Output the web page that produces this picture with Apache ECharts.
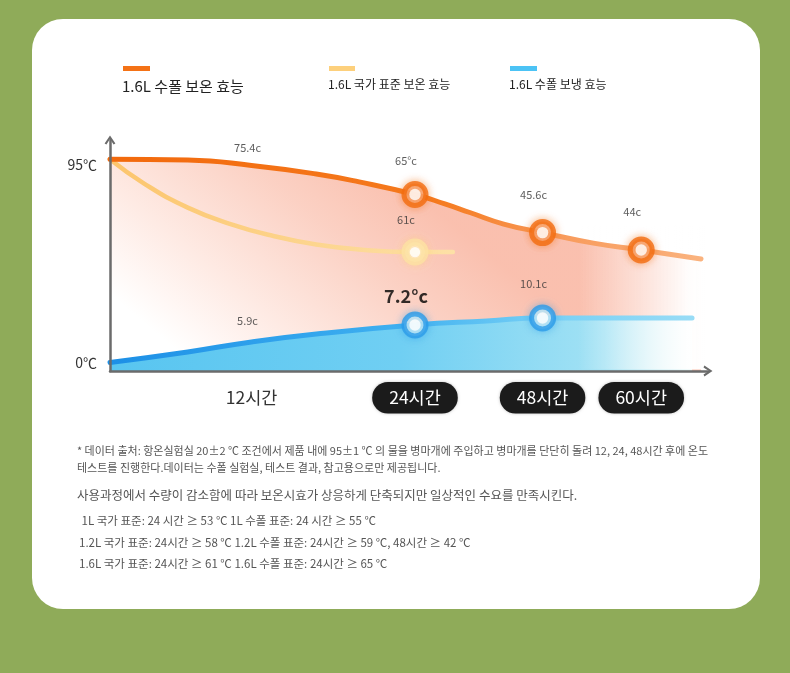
<!DOCTYPE html>
<html>
<head>
<meta charset="utf-8">
<script src="https://cdn.jsdelivr.net/npm/echarts@6/dist/echarts.min.js"></script>
<style>
  html, body { margin: 0; padding: 0; background: #8fab59; width: 790px; height: 673px; overflow: hidden; }
  #card { position: absolute; left: 32px; top: 19px; width: 728px; height: 590px; background: #fff; border-radius: 31px; }
  #chart { position: absolute; left: 0; top: 0; width: 790px; height: 673px; }
</style>
</head>
<body>
<div id="card"></div>
<div id="chart"></div>
<script>
// ---------- data ----------
// the timeline in the picture is not linear in hours, so x values are positions on a 0-60 timeline scale
const timeLabels = ['12시간', '24시간', '48시간', '60시간'];
const timeSlots = [14.2, 30.6, 43.4, 53.3];

const orangeX = [0, 7.8, 14.2, 20.7, 25, 30.6, 33.6, 36.1, 39.5, 43.4, 48.5, 53.3, 59.3];
const orangeY = [95, 94.6, 92.1, 88.1, 84.4, 78.5, 74.1, 70.1, 64.7, 60.7, 55.8, 52.6, 48.4];
const yellowX = [0, 3.5, 7.8, 12.1, 16.4, 20.7, 25, 30.6, 34.4];
const yellowY = [95, 83.4, 72.4, 64.7, 59.1, 55.1, 52.8, 51.6, 51.6];
const blueX = [0, 7.8, 14.2, 20.7, 30.6, 37.8, 43.4, 50.7, 58.4];
const blueY = [0, 4.9, 9.6, 13.3, 17.5, 19.4, 20.8, 20.8, 20.8];

// printed value labels at 12h / 24h / 48h / 60h
const orangeTexts = ['75.4c', '65°c', '45.6c', '44c'];
const yellowTexts = [null, '61c', null, null];
const blueTexts = ['5.9c', '7.2°c', '10.1c', null];
// which time marks carry a ring marker
const orangeMarks = [false, true, true, true];
const yellowMarks = [false, true, false, false];
const blueMarks = [false, true, true, false];

const yTickValues = [0, 95];
const seriesNames = ['1.6L 수폴 보온 효능', '1.6L 국가 표준 보온 효능', '1.6L 수폴 보냉 효능'];

const noteLines = [
  '* 데이터 출처: 항온실험실 20±2 ℃ 조건에서 제품 내에 95±1 ℃ 의 물을 병마개에 주입하고 병마개를 단단히 돌려 12, 24, 48시간 후에 온도',
  '테스트를 진행한다.데이터는 수폴 실험실, 테스트 결과, 참고용으로만 제공됩니다.',
  '사용과정에서 수량이 감소함에 따라 보온시효가 상응하게 단축되지만 일상적인 수요를 만족시킨다.',
  ' 1L 국가 표준: 24 시간 ≥ 53 ℃ 1L 수폴 표준: 24 시간 ≥ 55 ℃',
  '1.2L 국가 표준: 24시간 ≥ 58 ℃ 1.2L 수폴 표준: 24시간 ≥ 59 ℃, 48시간 ≥ 42 ℃',
  '1.6L 국가 표준: 24시간 ≥ 61 ℃ 1.6L 수폴 표준: 24시간 ≥ 65 ℃'
];

// ---------- styling ----------
const FONT = '"Noto Sans CJK KR", "Noto Sans", sans-serif';
const labelLift = { orange: [12, 28, 32, 33], yellow: [0, 27, 0, 0], blue: [16, 20, 29, 0] };

function zip(xs, ys) { return xs.map((x, i) => [x, ys[i]]); }
function valueAt(xs, ys, slot) {
  let best = 0;
  xs.forEach((x, i) => { if (Math.abs(x - slot) < Math.abs(xs[best] - slot)) best = i; });
  return ys[best];
}
function markData(xs, ys, flags) {
  const out = [];
  timeSlots.forEach((s, i) => { if (flags[i]) out.push([s, valueAt(xs, ys, s)]); });
  return out;
}
function labelData(xs, ys, texts, lifts, bold) {
  const out = [];
  timeSlots.forEach((s, i) => {
    if (texts[i] == null) return;
    const isBold = bold && texts[i] === '7.2°c';
    out.push({
      value: [s, valueAt(xs, ys, s)],
      label: {
        show: true, position: 'top', distance: lifts[i], offset: [i === 0 ? -4 : -9, 0],
        formatter: texts[i],
        fontSize: isBold ? 18 : 11,
        fontWeight: isBold ? 'bold' : 'normal',
        color: isBold ? '#000' : '#333',
        fontFamily: FONT
      }
    });
  });
  return out;
}
const G = echarts.graphic.LinearGradient;

const ringSeries = (name, data, outer, inner, center, size, bw, glow) => ([
  {
    type: 'scatter', name: name, data: data, z: 6, silent: true,
    symbol: 'circle', symbolSize: size,
    itemStyle: { color: inner, borderColor: outer, borderWidth: bw, shadowColor: glow, shadowBlur: 8 }
  },
  {
    type: 'scatter', name: name, data: data, z: 7, silent: true,
    symbol: 'circle', symbolSize: size * 0.52,
    itemStyle: { color: center }
  }
]);

const chart = echarts.init(document.getElementById('chart'), null, { renderer: 'canvas' });

const chevron = 'path://M0,9 L6,0 L12,9 L10,10 L6,4 L2,10 Z';
const SMOOTH = 0.5;

chart.setOption({
  animation: false,
  textStyle: { fontFamily: FONT },
  grid: { left: 110, right: 82, top: 140, bottom: 302, containLabel: false },
  xAxis: {
    type: 'value', min: 0, max: 60, z: 10,
    axisLine: { show: true, onZero: false, symbol: ['none', chevron], symbolSize: [12, 9], lineStyle: { color: '#6b6b6b', width: 2.5 } },
    axisTick: { show: false },
    splitLine: { show: false },
    axisLabel: {
      customValues: timeSlots, margin: 11,
      formatter: function (v) {
        let idx = 0;
        timeSlots.forEach((s, i) => { if (Math.abs(s - v) < Math.abs(timeSlots[idx] - v)) idx = i; });
        return idx === 0 ? '{plain|' + timeLabels[idx] + '}' : '{pill|' + timeLabels[idx] + '}';
      },
      rich: {
        plain: { fontSize: 17.5, color: '#333', padding: [7, 17], fontFamily: FONT },
        pill: { fontSize: 17.5, color: '#fff', backgroundColor: '#1b1b1b', borderRadius: 17, padding: [7, 17], fontFamily: FONT,
                shadowColor: 'rgba(0,0,0,0.25)', shadowBlur: 3 }
      }
    }
  },
  yAxis: {
    type: 'value', min: -4, max: 104, z: 10,
    axisLine: { show: true, onZero: false, symbol: ['none', chevron], symbolSize: [12, 9], lineStyle: { color: '#6b6b6b', width: 2.5 } },
    axisTick: { show: false },
    splitLine: { show: false },
    axisLabel: {
      customValues: yTickValues, margin: 13, fontFamily: FONT,
      formatter: v => (v > 0 ? '{low|' : '{n|') + v + '℃}',
      rich: {
        n: { fontSize: 14, color: '#333', fontFamily: FONT },
        low: { fontSize: 14, color: '#333', fontFamily: FONT, padding: [11, 0, 0, 0] }
      }
    }
  },
  series: [
    {
      type: 'line', name: seriesNames[0] + ' 영역', data: zip(orangeX, orangeY), z: 1, silent: true,
      smooth: SMOOTH, showSymbol: false, lineStyle: { width: 0 },
      areaStyle: { origin: 'start', color: new G(0.15, 1, 0.45, 0, [
        { offset: 0, color: '#ffffff' }, { offset: 0.3, color: '#fde2d9' },
        { offset: 0.7, color: '#f9bca9' }, { offset: 1, color: '#f7a48b' }]) }
    },
    {
      type: 'line', name: seriesNames[2] + ' 영역', data: zip(blueX, blueY), z: 1, silent: true,
      smooth: SMOOTH, showSymbol: false, lineStyle: { width: 0 },
      areaStyle: { origin: 'start', opacity: 1, color: new G(0, 0, 1, 0, [
        { offset: 0, color: '#58c5f0' }, { offset: 0.5, color: '#70cff3' },
        { offset: 0.85, color: '#a3e2f4' }, { offset: 1, color: '#e6f7f6' }]) }
    },
    {
      type: 'line', name: seriesNames[1], data: zip(yellowX, yellowY), z: 3, silent: true,
      smooth: SMOOTH, showSymbol: false,
      lineStyle: { width: 4.5, cap: 'round', color: new G(0, 0, 1, 0, [{ offset: 0, color: '#fcc56c' }, { offset: 1, color: '#fde0a6' }]) }
    },
    {
      type: 'line', name: seriesNames[0], data: zip(orangeX, orangeY), z: 3, silent: true,
      smooth: SMOOTH, showSymbol: false,
      lineStyle: { width: 5, cap: 'round', color: new G(0, 0, 1, 0, [
        { offset: 0, color: '#f2690c' }, { offset: 0.55, color: '#f57a1e' }, { offset: 0.75, color: '#f89a5a' }, { offset: 1, color: '#fab37f' }]) }
    },
    {
      type: 'line', name: seriesNames[2], data: zip(blueX, blueY), z: 3, silent: true,
      smooth: SMOOTH, showSymbol: false,
      lineStyle: { width: 5, cap: 'round', color: new G(0, 0, 1, 0, [
        { offset: 0, color: '#1c8fe6' }, { offset: 0.5, color: '#3fb0f0' }, { offset: 0.75, color: '#78d0f5' }, { offset: 1, color: '#98dcf6' }]) }
    },
    ...ringSeries(seriesNames[0], markData(orangeX, orangeY, orangeMarks), '#f26d10', '#f9ad7e', '#ffffff', 22, 5, 'rgba(242,109,16,0.55)'),
    ...ringSeries(seriesNames[1], markData(yellowX, yellowY, yellowMarks), '#fde2a4', '#fff1d2', '#ffffff', 20, 7, 'rgba(253,210,120,0.5)'),
    ...ringSeries(seriesNames[2], markData(blueX, blueY, blueMarks), '#2a9be9', '#e2f8f7', '#ffffff', 22, 5, 'rgba(42,155,233,0.5)'),
    {
      type: 'scatter', name: 'labels-o', z: 8, silent: true, symbolSize: 0,
      data: labelData(orangeX, orangeY, orangeTexts, labelLift.orange, false)
    },
    {
      type: 'scatter', name: 'labels-y', z: 8, silent: true, symbolSize: 0,
      data: labelData(yellowX, yellowY, yellowTexts, labelLift.yellow, false)
    },
    {
      type: 'scatter', name: 'labels-b', z: 8, silent: true, symbolSize: 0,
      data: labelData(blueX, blueY, blueTexts, labelLift.blue, true)
    }
  ]
});

// legend, notes and the white fade at the right end of the filled areas
const graphicEls = [
  { type: 'rect', shape: { x: 123, y: 66, width: 27, height: 5 }, style: { fill: '#f47216' } },
  { type: 'text', x: 122, y: 86, style: { text: seriesNames[0], fontSize: 15, fontFamily: FONT, fill: '#222', verticalAlign: 'middle' } },
  { type: 'rect', shape: { x: 329, y: 66, width: 26, height: 5 }, style: { fill: '#fdd07c' } },
  { type: 'text', x: 328, y: 84, style: { text: seriesNames[1], fontSize: 12, fontFamily: FONT, fill: '#222', verticalAlign: 'middle' } },
  { type: 'rect', shape: { x: 510, y: 66, width: 27, height: 5 }, style: { fill: '#4cc3f5' } },
  { type: 'text', x: 509, y: 84, style: { text: seriesNames[2], fontSize: 12, fontFamily: FONT, fill: '#222', verticalAlign: 'middle' } }
];
const noteY = [451, 468, 495, 521, 543, 564];
const noteX = [77, 77, 77, 79, 79, 79];
const noteSize = [11, 11, 12.5, 11.5, 11.5, 11.5];
noteLines.forEach((t, i) => {
  graphicEls.push({ type: 'text', x: noteX[i], y: noteY[i], style: { text: t, fontSize: noteSize[i], fontFamily: FONT, fill: '#555', verticalAlign: 'middle' } });
});
const pA = chart.convertToPixel({ gridIndex: 0 }, [47, 64]);
const pB = chart.convertToPixel({ gridIndex: 0 }, [60, -3.3]);
graphicEls.push({
  type: 'rect', z: 2, silent: true,
  shape: { x: pA[0], y: pA[1], width: pB[0] - pA[0], height: pB[1] - pA[1] },
  style: { fill: new G(0, 0, 1, 0, [
    { offset: 0, color: 'rgba(255,255,255,0)' }, { offset: 0.5, color: 'rgba(255,255,255,0.55)' },
    { offset: 0.85, color: 'rgba(255,255,255,0.97)' }, { offset: 1, color: '#ffffff' }]) }
});
chart.setOption({ graphic: { elements: graphicEls } });
</script>
</body>
</html>
